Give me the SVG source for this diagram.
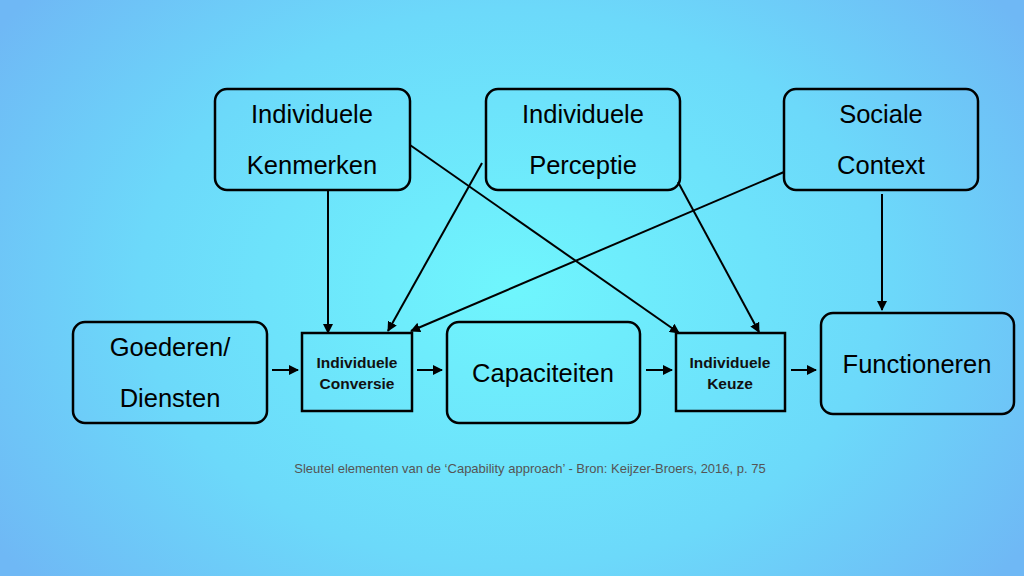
<svg xmlns="http://www.w3.org/2000/svg" width="1024" height="576" viewBox="0 0 1024 576">
<defs>
<radialGradient id="bg" cx="512" cy="288" r="620" gradientUnits="userSpaceOnUse" gradientTransform="translate(512 288) scale(1 0.75) translate(-512 -288)">
<stop offset="0" stop-color="#6ff6fd"/>
<stop offset="0.6" stop-color="#6cd9fa"/>
<stop offset="1" stop-color="#6fb8f5"/>
</radialGradient>
<marker id="ah" viewBox="0 0 10 10" refX="9" refY="5" markerWidth="5" markerHeight="5" markerUnits="strokeWidth" orient="auto">
<path d="M0,0 L10,5 L0,10 Z" fill="#000"/>
</marker>
<style>
.box{fill:none;stroke:#000;stroke-width:2.5}
.big{font-family:"Liberation Sans",Arial,sans-serif;font-size:25.5px;fill:#000;text-anchor:middle}
.small{font-family:"Liberation Sans",Arial,sans-serif;font-size:15.5px;font-weight:bold;fill:#111;text-anchor:middle}
.cap{font-family:"Liberation Sans",Arial,sans-serif;font-size:13px;fill:#555;text-anchor:middle}
.con line{stroke:#000;stroke-width:2;marker-end:url(#ah)}
</style>
</defs>
<rect width="1024" height="576" fill="url(#bg)"/>
<g id="kenmerken">
<rect class="box" x="215" y="89" width="195" height="101" rx="12"/>
<text class="big" x="312" y="123">Individuele</text>
<text class="big" x="312" y="174">Kenmerken</text>
</g>
<g id="perceptie">
<rect class="box" x="486" y="89" width="194" height="101" rx="12"/>
<text class="big" x="583" y="123">Individuele</text>
<text class="big" x="583" y="174">Perceptie</text>
</g>
<g id="context">
<rect class="box" x="784" y="89" width="194" height="101" rx="12"/>
<text class="big" x="881" y="123">Sociale</text>
<text class="big" x="881" y="174">Context</text>
</g>
<g id="goederen">
<rect class="box" x="73" y="322" width="194" height="101" rx="12"/>
<text class="big" x="170" y="356">Goederen/</text>
<text class="big" x="170" y="407">Diensten</text>
</g>
<g id="conversie">
<rect class="box" x="302" y="333" width="110" height="78"/>
<text class="small" x="357" y="368">Individuele</text>
<text class="small" x="357" y="389">Conversie</text>
</g>
<g id="capaciteiten">
<rect class="box" x="447" y="322" width="193" height="101" rx="12"/>
<text class="big" x="543" y="382">Capaciteiten</text>
</g>
<g id="keuze">
<rect class="box" x="676" y="333" width="109" height="78"/>
<text class="small" x="730" y="368">Individuele</text>
<text class="small" x="730" y="389">Keuze</text>
</g>
<g id="functioneren">
<rect class="box" x="821" y="313" width="193" height="101" rx="12"/>
<text class="big" x="917" y="373">Functioneren</text>
</g>
<g id="connectors" class="con">
<line x1="328" y1="191" x2="328" y2="333"/>
<line x1="410" y1="145" x2="679" y2="333"/>
<line x1="482" y1="163" x2="388" y2="331"/>
<line x1="678" y1="182" x2="759" y2="332"/>
<line x1="784" y1="172" x2="411" y2="331"/>
<line x1="882" y1="194" x2="882" y2="310"/>
<line x1="272" y1="370" x2="298" y2="370"/>
<line x1="417" y1="370" x2="442" y2="370"/>
<line x1="646" y1="370" x2="672" y2="370"/>
<line x1="791" y1="370" x2="816" y2="370"/>
</g>
<text class="cap" x="530" y="473">Sleutel elementen van de ‘Capability approach’ - Bron: Keijzer-Broers, 2016, p. 75</text>
</svg>
